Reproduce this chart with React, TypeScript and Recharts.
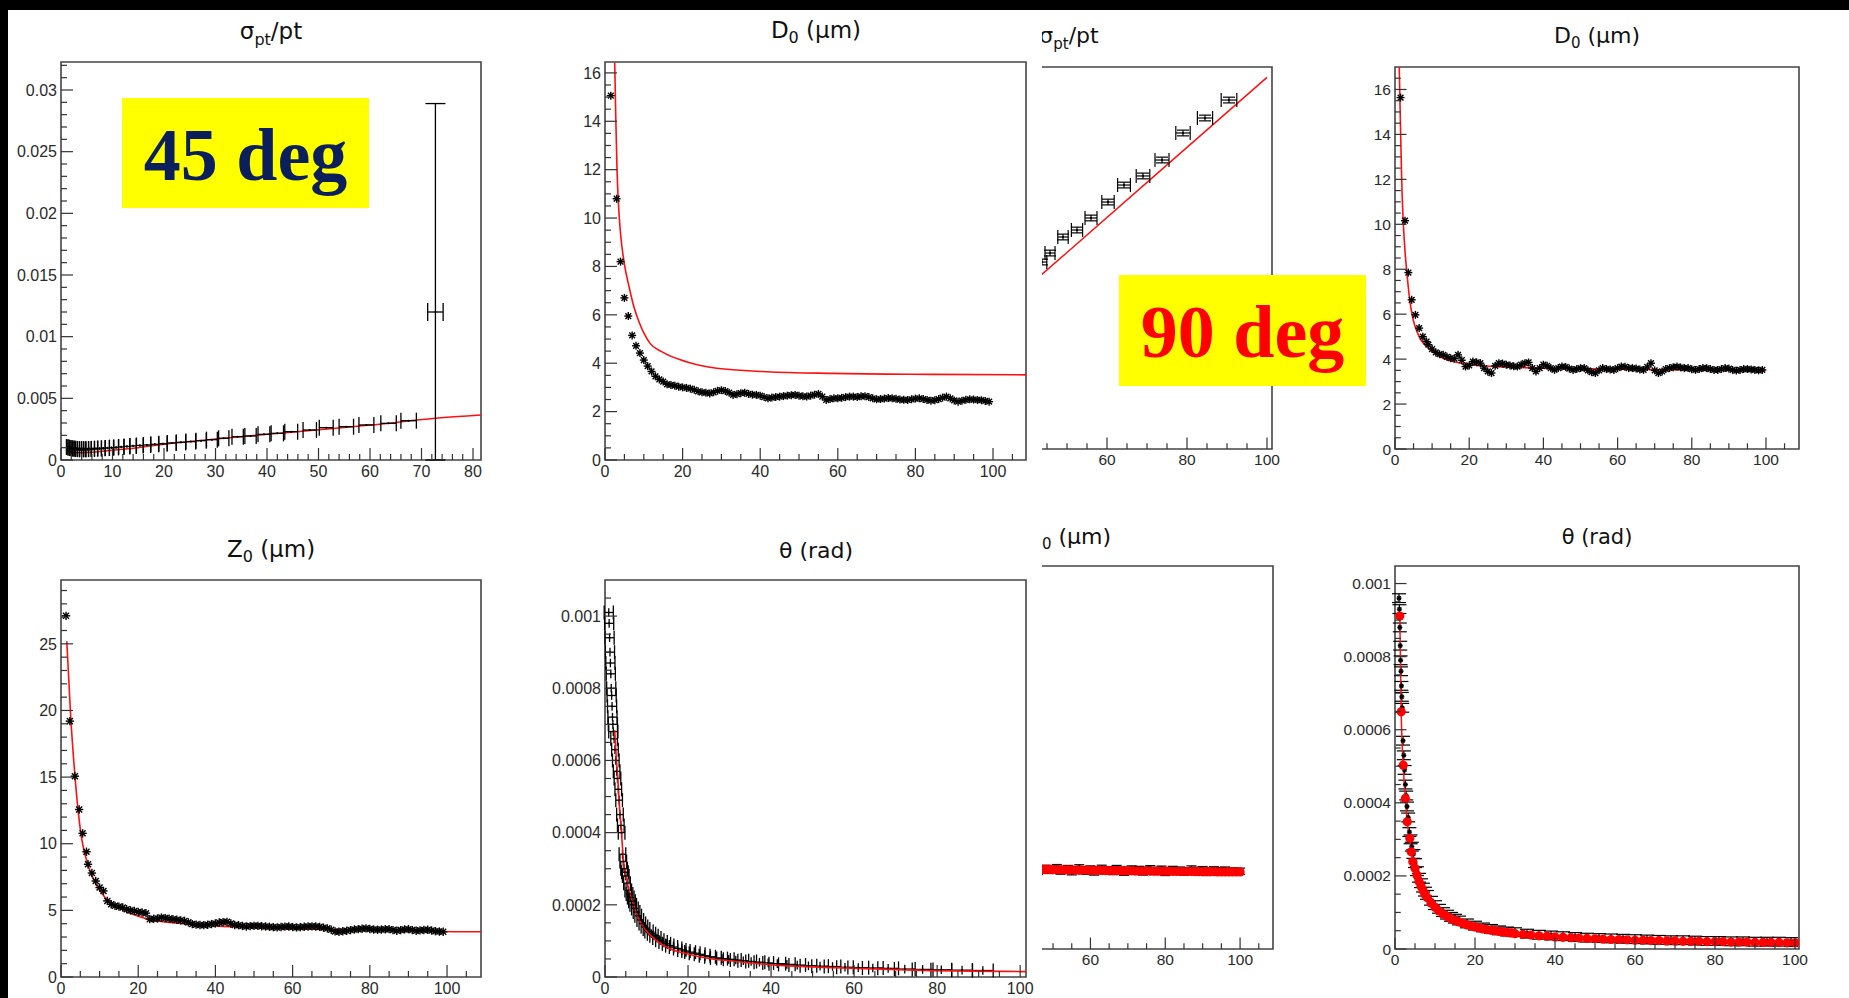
import React from 'react';
import { ComposedChart, XAxis, YAxis, Scatter, Line, ErrorBar, ReferenceArea } from 'recharts';

const FONT = '"DejaVu Sans", "Liberation Sans", Arial, sans-serif';
const TICKFONT = '"Liberation Sans", Arial, Helvetica, sans-serif';
const SERIF = '"Liberation Serif", "Times New Roman", serif';

// ---------- shared categories ----------
const PT_BINS = [3,4,5,6,7,8,9,10,11,12,13,14,15,16,17,18,19,20,21,22,23,24,25,26,27,28,29,30,31,32,33,34,35,36,37,38,39,40,41,42,43,44,45,46,47,48,49,50,51,52,53,54,55,56,57,58,59,60,61,62,63,64,65,66,67,68,69,70,71,72,73,74,75,76,77,78,79,80,81,82,83,84,85,86,87,88,89,90,91,92,93,94,95,96,97,98,99];

// ---------- tick labels ----------
const X_MAJOR_100 = [0, 20, 40, 60, 80, 100];
const X_LABELS_100 = ['0', '20', '40', '60', '80', '100'];
// the cut 90-deg panels only show the labels to the right of the overlap
const X_LABELS_100_CUT = ['', '', '', '60', '80', '100'];
const X_MAJOR_80 = [0, 10, 20, 30, 40, 50, 60, 70, 80];
const X_LABELS_80 = ['0', '10', '20', '30', '40', '50', '60', '70', '80'];
const Y_MAJOR_SIG = [0, 0.005, 0.01, 0.015, 0.02, 0.025, 0.03];
const Y_LABELS_SIG = ['0', '0.005', '0.01', '0.015', '0.02', '0.025', '0.03'];
const Y_MAJOR_D0 = [0, 2, 4, 6, 8, 10, 12, 14, 16];
const Y_LABELS_D0 = ['0', '2', '4', '6', '8', '10', '12', '14', '16'];
const Y_MAJOR_Z0 = [0, 5, 10, 15, 20, 25];
const Y_LABELS_Z0 = ['0', '5', '10', '15', '20', '25'];
const Y_MAJOR_TH = [0, 0.0002, 0.0004, 0.0006, 0.0008, 0.001];
const Y_LABELS_TH = ['0', '0.0002', '0.0004', '0.0006', '0.0008', '0.001'];

// ---------- 45 deg : sigma_pt / pt ----------
const SIG45_X = [1.2,1.5,1.8,2.1,2.4,2.7,3.0,3.4,3.8,4.2,4.6,5.1,5.6,6.2,6.8,7.5,8.2,9.0,9.8,10.7,11.7,12.8,14.0,15.3,16.7,18.2,19.8,21.5,23.3,25.2,27.2,29.3,31.6,34.3,36.8,39.4,42.0,44.7,48.3,51.5,55.4,59.3,63.6,67.5];
const SIG45_Y = [0.00105,0.001,0.00098,0.00095,0.00093,0.00092,0.0009,0.00088,0.00087,0.00088,0.00087,0.00088,0.00089,0.0009,0.00092,0.00093,0.00095,0.00097,0.001,0.00102,0.00106,0.0011,0.00114,0.00118,0.00122,0.00127,0.00132,0.00138,0.00143,0.00149,0.00157,0.00165,0.00176,0.00189,0.00195,0.00208,0.00216,0.0023,0.00243,0.00262,0.0027,0.00284,0.00297,0.00319];
const SIG45_XERR = [0.15,0.15,0.15,0.15,0.15,0.15,0.2,0.2,0.2,0.2,0.2,0.25,0.25,0.3,0.3,0.35,0.35,0.4,0.4,0.45,0.5,0.55,0.6,0.65,0.7,0.75,0.8,0.85,0.9,0.95,1.0,1.05,1.0,1.1,1.1,1.15,1.2,1.25,1.3,1.35,1.4,1.45,1.5,1.5];
const SIG45_YERR = [0.00016,0.00015,0.00015,0.00015,0.00014,0.00014,0.00014,0.00013,0.00013,0.00013,0.00013,0.00012,0.00012,0.00012,0.00011,0.00011,0.00011,0.0001,0.0001,0.0001,0.00009,0.00009,0.00009,0.00008,0.00008,0.00008,0.00007,0.00007,0.00007,0.00006,0.00006,0.00006,0.00005,0.00005,0.00005,0.00005,0.00005,0.00005,0.00005,0.00005,0.00005,0.00005,0.00005,0.00005];
const SIG45_OUT_X = [72.7];
const SIG45_OUT_Y = [0.012];
const SIG45_OUT_XERR = [1.5];
// [down, up]: the lower error is cut at the axis by the frame
const SIG45_OUT_YERR = [[0.012, 0.0169]];
const SIG45_FIT_X = [1.2,2,3,4,6,8,10,15,20,31.6,40,50,60,72.7,81.6];
const SIG45_FIT_Y = [0.00075,0.00062,0.00058,0.00058,0.00062,0.0007,0.00079,0.001,0.00128,0.00176,0.00208,0.00245,0.00283,0.00338,0.00365];

// ---------- 45 deg : D0 ----------
const D045_X = [1.5, ...PT_BINS];
const D045_Y = [15.06,10.8,8.2,6.7,5.95,5.15,4.72,4.42,4.13,3.88,3.66,3.46,3.33,3.24,3.13,3.1,3.07,3.03,3.0,2.98,2.95,2.9,2.84,2.8,2.78,2.75,2.8,2.86,2.89,2.85,2.78,2.69,2.72,2.76,2.78,2.73,2.7,2.69,2.66,2.6,2.55,2.58,2.6,2.62,2.64,2.66,2.68,2.69,2.66,2.63,2.62,2.66,2.7,2.73,2.62,2.48,2.52,2.55,2.55,2.57,2.6,2.62,2.62,2.6,2.63,2.64,2.6,2.55,2.51,2.52,2.54,2.56,2.55,2.53,2.5,2.49,2.48,2.51,2.54,2.55,2.52,2.48,2.45,2.47,2.52,2.58,2.62,2.55,2.46,2.41,2.45,2.49,2.51,2.5,2.48,2.47,2.44,2.41];
const D045_FIT_X = [2.5,2.8,3.1,3.5,4,5,6.2,7.5,8.9,10,11.6,14.6,21,28.8,41.7,58.8,84.6,108.5];
const D045_FIT_Y = [16.43,14,12,10.5,9.37,8.1,7.16,6.3,5.65,5.25,4.82,4.48,4.06,3.79,3.65,3.58,3.54,3.52];

// ---------- 45 deg : Z0 ----------
const Z045_X = [1.3, 2.3, 3.6, 4.7, 5.6, 6.6, ...PT_BINS.slice(4)];
const Z045_Y = [27.1,19.2,15.07,12.57,10.78,9.4,8.46,7.8,7.2,6.71,6.46,5.71,5.46,5.34,5.28,5.21,5.09,5.0,4.96,4.88,4.84,4.79,4.34,4.37,4.39,4.46,4.42,4.38,4.34,4.3,4.25,4.21,4.1,3.97,3.93,3.9,3.89,3.92,3.97,4.02,4.09,4.12,4.14,4.02,3.9,3.89,3.83,3.79,3.82,3.84,3.84,3.81,3.79,3.77,3.74,3.72,3.75,3.78,3.79,3.75,3.72,3.74,3.77,3.79,3.8,3.79,3.76,3.7,3.65,3.55,3.42,3.39,3.43,3.47,3.52,3.57,3.59,3.62,3.65,3.6,3.56,3.54,3.56,3.58,3.59,3.52,3.47,3.52,3.57,3.59,3.52,3.47,3.5,3.53,3.54,3.49,3.44,3.41,3.39];
const Z045_FIT_X = [1.5,2.5,3.5,4.5,5.4,7.1,8.8,11.4,15.7,22.6,33,50.3,76.2,102,108.8];
const Z045_FIT_Y = [25.2,19.6,15.5,12.3,10.3,8.3,7.1,5.97,5.09,4.34,3.97,3.72,3.54,3.4,3.39];

// ---------- 45 deg : theta ----------
const TH45_X = [0.9,1.0,1.1,1.2,1.3,1.4,1.5,1.6,1.7,1.8,1.9,2.0,2.2,2.4,2.6,2.8,3.0,3.2,3.4,3.6,3.8,4.0,4.2,4.4,4.6,4.8,5.0,5.3,5.6,5.9,6.2,6.5,6.8,7.2,7.6,8.0,8.5,9.0,9.5,10,10.6,11.2,11.8,12.5,13.2,14,14.8,15.6,16.5,17.5,18.5,19.5,20.5,21.6,22.8,24,25.3,26.7,28.2,29.8,31.5,33.3,35.2,37.2,39.3,41.5,43.8,46.3,49,51.8,54.8,57.8,61,64.5,68.2,72.2,76.5,81,86,91];
const TH45_Y = [0.00101,0.00098,0.00094,0.0009,0.00087,0.00084,0.0008,0.00078,0.00075,0.00072,0.0007,0.00068,0.00066,0.00063,0.0006,0.00057,0.00055,0.00052,0.00049,0.00045,0.00042,0.0004,0.00034,0.00032,0.0003,0.00029,0.00028,0.00026,0.00024,0.00023,0.00022,0.00021,0.0002,0.00019,0.00018,0.00017,0.000158,0.000148,0.00014,0.000133,0.000126,0.00012,0.000114,0.000108,0.000102,0.000097,0.000092,0.000087,0.000083,0.000079,0.000075,0.000072,0.000069,0.000066,0.000063,0.000059,0.000056,0.000053,0.000051,0.000049,0.000047,0.000045,0.000043,0.000041,0.000039,0.000037,0.000035,0.000033,0.000031,0.00003,0.000029,0.000027,0.000026,0.000025,0.000024,0.000022,0.000021,0.00002,0.000019,0.000018];
const TH45_XERR_BANDS = [[2.1, 1.1], [5.1, 0.8], [10.1, 0.8], [20.1, 1.0], [40, 1.3], [60, 2.0], [200, 2.5]];
const TH45_FIT_X = [2.34,2.7,3.16,3.5,3.98,4.4,5.2,6.5,8,9.8,12.5,16.4,20,24.7,30,41.3,55,74.5,101.4];
const TH45_FIT_Y = [0.000684,0.00061,0.000537,0.00047,0.000398,0.000329,0.00027,0.000213,0.000165,0.00013,0.0001,0.000075,0.000064,0.000052,0.000045,0.000033,0.000026,0.000019,0.000015];

// ---------- 90 deg : sigma_pt / pt (cut) ----------
const SIG90_X = [36.5,38.9,41.3,43.75,45.75,49,52.5,56,60.25,64.25,69,73.75,79,84.5,90.5];
const SIG90_Y = [0.00168,0.00177,0.00186,0.001958,0.002052,0.00222,0.002293,0.002419,0.002586,0.002764,0.002859,0.003026,0.003309,0.003466,0.003654];
const SIG90_XERR = [1.1,1.15,1.2,1.2,1.25,1.3,1.4,1.5,1.55,1.6,1.7,1.75,1.8,1.9,1.95];
const SIG90_FIT_X = [0, 50, 100];
const SIG90_FIT_Y = [0.000224, 0.002058, 0.003892];

// ---------- 90 deg : D0 ----------
const D090_X = [1.5, 2.7, 3.6, 4.5, 5.5, 6.5, 7.5, 8.5, ...PT_BINS.slice(6)];
const D090_Y = [15.64,10.16,7.85,6.64,5.97,5.38,5.0,4.78,4.64,4.45,4.3,4.22,4.19,4.1,4.04,4.02,4.19,3.95,3.67,3.72,3.89,3.86,3.82,3.6,3.45,3.38,3.7,3.82,3.8,3.75,3.72,3.68,3.67,3.75,3.82,3.85,3.6,3.45,3.6,3.75,3.7,3.6,3.52,3.6,3.67,3.65,3.58,3.52,3.56,3.6,3.6,3.5,3.42,3.38,3.5,3.6,3.56,3.54,3.52,3.6,3.67,3.66,3.6,3.6,3.58,3.54,3.52,3.65,3.82,3.5,3.38,3.45,3.56,3.6,3.64,3.67,3.63,3.6,3.6,3.55,3.52,3.56,3.6,3.6,3.56,3.52,3.52,3.56,3.6,3.58,3.52,3.49,3.52,3.56,3.56,3.54,3.52,3.5,3.52];
const D090_FIT_X = [1.14,1.5,1.8,2.2,2.7,3.3,4,4.9,6,7,8.5,10,13,16,20.2,30,40,60,80,99.9];
const D090_FIT_Y = [17,14.2,12,10.19,8.8,7.67,6.6,5.75,5.2,4.85,4.56,4.35,4.04,3.88,3.75,3.65,3.6,3.55,3.52,3.49];

// ---------- 90 deg : Z0 (cut) ----------
const Z090_X = [40,41,42,43,44,45,46,47,48,49,50,51,52,53,54,55,56,57,58,59,60,61,62,63,64,65,66,67,68,69,70,71,72,73,74,75,76,77,78,79,80,81,82,83,84,85,86,87,88,89,90,91,92,93,94,95,96,97,98,99,100];
const Z090_RED = [3.56,3.56,3.55,3.55,3.55,3.54,3.54,3.53,3.53,3.53,3.52,3.52,3.52,3.51,3.51,3.51,3.5,3.5,3.5,3.5,3.49,3.49,3.49,3.49,3.48,3.48,3.48,3.48,3.47,3.47,3.47,3.47,3.46,3.46,3.46,3.46,3.46,3.45,3.45,3.45,3.45,3.45,3.44,3.44,3.44,3.44,3.44,3.44,3.43,3.43,3.43,3.43,3.43,3.43,3.42,3.42,3.42,3.42,3.42,3.42,3.42];
const Z090_BLACK = [3.58,3.5,3.62,3.47,3.55,3.6,3.44,3.52,3.58,3.49,3.54,3.61,3.46,3.5,3.57,3.43,3.52,3.6,3.48,3.45,3.55,3.42,3.5,3.58,3.46,3.52,3.44,3.57,3.5,3.41,3.49,3.55,3.47,3.53,3.42,3.5,3.56,3.44,3.49,3.54,3.4,3.48,3.53,3.45,3.5,3.41,3.47,3.55,3.44,3.49,3.52,3.4,3.46,3.51,3.43,3.48,3.5,3.41,3.46,3.44,3.45];

// ---------- 90 deg : theta ----------
const TH90_BX = [1.0,1.1,1.2,1.3,1.4,1.5,1.6,1.7,1.8,2.0,2.2,2.4,2.6,2.8,3.0,3.3,3.6,3.9,4.2,4.6,5,5.5,6,6.5,7,7.5,8,9,10,11,12,13,14,15,16,18,20,22,24,26,28,30,33,36,39,42,45,48,51,54,57,60,63,66,69,72,75,78,81,84,87,90,93,96,99];
const TH90_BY = [0.00096,0.00093,0.00088,0.00083,0.00079,0.00076,0.00072,0.00069,0.00066,0.00057,0.00053,0.00049,0.00045,0.00042,0.00039,0.00036,0.00032,0.0003,0.00028,0.00026,0.000235,0.000213,0.000195,0.00018,0.000168,0.000157,0.000148,0.000132,0.00012,0.00011,0.000101,0.000094,0.000088,0.000083,0.000078,0.00007,0.000064,0.000059,0.000055,0.000051,0.000048,0.000046,0.000042,0.000039,0.000037,0.000035,0.000033,0.000031,0.00003,0.000029,0.000028,0.000027,0.000026,0.000025,0.000024,0.000024,0.000023,0.000022,0.000022,0.000021,0.000021,0.00002,0.00002,0.00002,0.000019];
const TH90_RX = [1.2,1.55,2.05,2.6,3.05,3.7,4.05,4.45,5,5.5,6,6.5,7,7.5,8,9,10,11,12,13,14,15,16,17,18,19,20,21,22,23,24,25,26,27,28,29,30,32,34,36,38,40,42,44,46,48,50,52,54,56,58,60,62,64,66,68,70,72,74,76,78,80,82,84,86,88,90,92,94,96,98,100];
const TH90_RY = [0.000911,0.000649,0.000503,0.000412,0.000348,0.000303,0.000266,0.000239,0.000221,0.000202,0.000185,0.000172,0.00016,0.00015,0.000141,0.000126,0.000114,0.000104,0.000096,0.000089,0.000083,0.000078,0.000074,0.00007,0.000066,0.000063,0.00006,0.000058,0.000055,0.000053,0.000051,0.00005,0.000048,0.000046,0.000045,0.000044,0.000042,0.00004,0.000038,0.000036,0.000035,0.000033,0.000032,0.000031,0.00003,0.000029,0.000028,0.000027,0.000026,0.000026,0.000025,0.000024,0.000024,0.000023,0.000023,0.000022,0.000022,0.000021,0.000021,0.000021,0.00002,0.00002,0.00002,0.000019,0.000019,0.000019,0.000018,0.000018,0.000018,0.000018,0.000017,0.000017];

// ---------- helpers ----------
function rows(xs: number[], ys: number[], ex?: any, ey?: any) {
  const n = Math.min(xs.length, ys.length);
  const out: any[] = [];
  for (let i = 0; i < n; i++) {
    out.push({
      x: xs[i],
      y: ys[i],
      ex: Array.isArray(ex) ? (ex[i] ?? 0) : (ex ?? 0),
      ey: Array.isArray(ey) ? (ey[i] ?? 0) : (ey ?? 0),
    });
  }
  return out;
}
function bandLookup(xs: number[], bands: number[][]) {
  return xs.map((x) => {
    for (const [lim, v] of bands) if (x < lim) return v;
    return bands[bands.length - 1][1];
  });
}
function minorTicks(a: number, b: number, step: number) {
  const out: number[] = [];
  if (!(step > 0)) return out;
  const k0 = Math.ceil(a / step - 1e-9);
  const k1 = Math.floor(b / step + 1e-9);
  for (let k = k0; k <= k1; k++) {
    const v = +(k * step).toPrecision(12);
    if (Math.abs(v - b) < step * 0.05) continue;
    out.push(v);
  }
  return out;
}

function makeXTick(major: number[], labels: string[], step: number, fs: number, gap: number, tl: number) {
  return (p: any) => {
    const v = p.payload ? p.payload.value : 0;
    const i = major.findIndex((m) => Math.abs(m - v) < step * 0.01);
    const len = i >= 0 ? tl : tl / 2;
    const lab = i >= 0 ? labels[i] : '';
    return (
      <g>
        <line x1={p.x} x2={p.x} y1={p.y} y2={p.y - len} stroke="#333" strokeWidth={1.2} />
        {lab ? (
          <text x={p.x} y={p.y + gap} textAnchor="middle" fontFamily={TICKFONT} fontSize={fs} fill="#2a2a2a">
            {lab}
          </text>
        ) : null}
      </g>
    );
  };
}
function makeYTick(major: number[], labels: string[], step: number, fs: number, tl: number) {
  return (p: any) => {
    const v = p.payload ? p.payload.value : 0;
    const i = major.findIndex((m) => Math.abs(m - v) < step * 0.01);
    const len = i >= 0 ? tl : tl / 2;
    const lab = i >= 0 ? labels[i] : '';
    return (
      <g>
        <line x1={p.x} x2={p.x + len} y1={p.y} y2={p.y} stroke="#333" strokeWidth={1.2} />
        {lab ? (
          <text x={p.x - 4} y={p.y} dy="0.36em" textAnchor="end" fontFamily={TICKFONT} fontSize={fs} fill="#2a2a2a">
            {lab}
          </text>
        ) : null}
      </g>
    );
  };
}

const asterisk = (s: number) => (p: any) => {
  const { cx, cy } = p;
  if (cx == null || cy == null) return <g />;
  const d = s * 0.72;
  return (
    <g stroke="#000" strokeWidth={1.4}>
      <line x1={cx - s} x2={cx + s} y1={cy} y2={cy} />
      <line x1={cx} x2={cx} y1={cy - s} y2={cy + s} />
      <line x1={cx - d} x2={cx + d} y1={cy - d} y2={cy + d} />
      <line x1={cx - d} x2={cx + d} y1={cy + d} y2={cy - d} />
    </g>
  );
};
const dot = (p: any) => {
  const { cx, cy } = p;
  if (cx == null || cy == null) return <g />;
  return <circle cx={cx} cy={cy} r={1} fill="#000" />;
};
const redDot = (p: any) => {
  const { cx, cy } = p;
  if (cx == null || cy == null) return <g />;
  return <circle cx={cx} cy={cy} r={4.6} fill="#ff0000" />;
};

function fitLine(xs: number[], ys: number[], w = 1.6) {
  return (
    <Line
      data={rows(xs, ys)}
      dataKey="y"
      type="monotone"
      stroke="#ff1010"
      strokeWidth={w}
      dot={false}
      activeDot={false}
      isAnimationActive={false}
    />
  );
}

function Panel(props: any) {
  const { f, xd, yd, xMajor, xLabels, xStep, yMajor, yLabels, yStep, fs, tl, gap, ox = 0, children } = props;
  const YW = 90, XH = 32, M = 4, MR = 26;
  const w = f.r - f.l + YW + MR;
  const h = f.b - f.t + M + XH;
  const xTicks = minorTicks(xd[0], xd[1], xStep);
  const yTicks = minorTicks(yd[0], yd[1], yStep);
  return (
    <div style={{ position: 'absolute', left: f.l - YW - ox, top: f.t - M, width: w, height: h }}>
      <ComposedChart width={w} height={h} margin={{ top: M, right: MR, bottom: 0, left: 0 }}>
        <XAxis
          type="number"
          dataKey="x"
          domain={xd}
          allowDataOverflow
          ticks={xTicks}
          interval={0}
          height={XH}
          tickSize={0}
          tickMargin={0}
          tickLine={false}
          axisLine={false}
          tick={makeXTick(xMajor, xLabels, xStep, fs, gap, tl)}
        />
        <YAxis
          type="number"
          domain={yd}
          allowDataOverflow
          ticks={yTicks.length ? yTicks : undefined}
          interval={0}
          width={YW}
          tickSize={0}
          tickMargin={0}
          tickLine={false}
          axisLine={false}
          tick={yTicks.length ? makeYTick(yMajor, yLabels, yStep, fs, tl) : false}
        />
        <ReferenceArea
          x1={xd[0]}
          x2={xd[1]}
          y1={yd[0]}
          y2={yd[1]}
          fill="none"
          fillOpacity={0}
          stroke="#444"
          strokeWidth={1.6}
          ifOverflow="visible"
        />
        {children}
      </ComposedChart>
    </div>
  );
}

export default function App() {
  const sig45 = rows(SIG45_X, SIG45_Y, SIG45_XERR, SIG45_YERR);
  const sig45out = rows(SIG45_OUT_X, SIG45_OUT_Y, SIG45_OUT_XERR, SIG45_OUT_YERR);
  const d045 = rows(D045_X, D045_Y, 0.5, 0.08);
  const z045 = rows(Z045_X, Z045_Y, 0.5, 0.15);
  const th45 = rows(TH45_X, TH45_Y, bandLookup(TH45_X, TH45_XERR_BANDS), 0.000012);
  const sig90 = rows(SIG90_X, SIG90_Y, SIG90_XERR, 0.00003);
  const d090 = rows(D090_X, D090_Y, 0.5, 0.1);
  const z090b = rows(Z090_X, Z090_BLACK, 0.5, 0.14);
  const z090r = rows(Z090_X, Z090_RED);
  const th90b = rows(TH90_BX, TH90_BY, 0.35, 0.000012);
  const th90r = rows(TH90_RX, TH90_RY);

  const L = { fs: 16, tl: 12, gap: 17 };
  const R = { fs: 15.5, tl: 11.5, gap: 16 };

  return (
    <div style={{ position: 'absolute', left: 0, top: 0, width: 1849, height: 998, background: '#fff', overflow: 'hidden' }}>
      {/* 45 deg: sigma_pt/pt */}
      <Panel f={{ l: 61, t: 62, r: 481, b: 460 }} xd={[0, 81.55]} yd={[0, 0.03227]}
        xMajor={X_MAJOR_80} xLabels={X_LABELS_80} xStep={2}
        yMajor={Y_MAJOR_SIG} yLabels={Y_LABELS_SIG} yStep={0.001} {...L}>
        {fitLine(SIG45_FIT_X, SIG45_FIT_Y, 1.5)}
        <Scatter data={sig45} dataKey="y" shape={dot} isAnimationActive={false}>
          <ErrorBar dataKey="ex" direction="x" width={8} stroke="#000" strokeWidth={1.3} />
          <ErrorBar dataKey="ey" direction="y" width={0} stroke="#000" strokeWidth={1.3} />
        </Scatter>
        <Scatter data={sig45out} dataKey="y" shape={dot} isAnimationActive={false}>
          <ErrorBar dataKey="ex" direction="x" width={9} stroke="#000" strokeWidth={1.3} />
          <ErrorBar dataKey="ey" direction="y" width={10} stroke="#000" strokeWidth={1.3} />
        </Scatter>
      </Panel>

      {/* 45 deg: D0 */}
      <Panel f={{ l: 605, t: 62, r: 1026, b: 460 }} xd={[0, 108.5]} yd={[0, 16.45]}
        xMajor={X_MAJOR_100} xLabels={X_LABELS_100} xStep={5}
        yMajor={Y_MAJOR_D0} yLabels={Y_LABELS_D0} yStep={0.5} {...L}>
        {fitLine(D045_FIT_X, D045_FIT_Y, 1.6)}
        <Scatter data={d045} dataKey="y" shape={asterisk(4)} isAnimationActive={false}>
          <ErrorBar dataKey="ex" direction="x" width={0} stroke="#000" strokeWidth={1.2} />
          <ErrorBar dataKey="ey" direction="y" width={0} stroke="#000" strokeWidth={1.2} />
        </Scatter>
      </Panel>

      {/* 45 deg: Z0 */}
      <Panel f={{ l: 61, t: 580, r: 481, b: 977 }} xd={[0, 108.8]} yd={[0, 29.79]}
        xMajor={X_MAJOR_100} xLabels={X_LABELS_100} xStep={5}
        yMajor={Y_MAJOR_Z0} yLabels={Y_LABELS_Z0} yStep={1} {...L}>
        <Scatter data={z045} dataKey="y" shape={asterisk(4.2)} isAnimationActive={false}>
          <ErrorBar dataKey="ex" direction="x" width={0} stroke="#000" strokeWidth={1.3} />
          <ErrorBar dataKey="ey" direction="y" width={0} stroke="#000" strokeWidth={1.3} />
        </Scatter>
        {fitLine(Z045_FIT_X, Z045_FIT_Y, 1.6)}
      </Panel>

      {/* 45 deg: theta */}
      <Panel f={{ l: 605, t: 580, r: 1026, b: 977 }} xd={[0, 101.4]} yd={[0, 0.0011]}
        xMajor={X_MAJOR_100} xLabels={X_LABELS_100} xStep={5}
        yMajor={Y_MAJOR_TH} yLabels={Y_LABELS_TH} yStep={0.00005} {...L}>
        <Scatter data={th45} dataKey="y" shape={dot} isAnimationActive={false}>
          <ErrorBar dataKey="ex" direction="x" width={7} stroke="#000" strokeWidth={1.3} />
          <ErrorBar dataKey="ey" direction="y" width={0} stroke="#000" strokeWidth={1.3} />
        </Scatter>
        {fitLine(TH45_FIT_X, TH45_FIT_Y, 1.6)}
      </Panel>

      {/* 90 deg: cut panels */}
      <div style={{ position: 'absolute', left: 1042, top: 0, width: 1849 - 1042, height: 998, overflow: 'hidden' }}>
        <Panel f={{ l: 867, t: 67, r: 1272, b: 449 }} ox={1042} xd={[0, 101.25]} yd={[0, 0.004]}
          xMajor={X_MAJOR_100} xLabels={X_LABELS_100_CUT} xStep={5}
          yMajor={[]} yLabels={[]} yStep={0} {...R}>
          {fitLine(SIG90_FIT_X, SIG90_FIT_Y, 1.5)}
          <Scatter data={sig90} dataKey="y" shape={dot} isAnimationActive={false}>
            <ErrorBar dataKey="ex" direction="x" width={7} stroke="#000" strokeWidth={1.2} />
            <ErrorBar dataKey="ey" direction="y" width={6} stroke="#000" strokeWidth={1.2} />
          </Scatter>
        </Panel>
        <Panel f={{ l: 866, t: 566, r: 1273, b: 949 }} ox={1042} xd={[0, 108.8]} yd={[0, 17]}
          xMajor={X_MAJOR_100} xLabels={X_LABELS_100_CUT} xStep={5}
          yMajor={[]} yLabels={[]} yStep={0} {...R}>
          <Scatter data={z090b} dataKey="y" shape={asterisk(3)} isAnimationActive={false}>
            <ErrorBar dataKey="ex" direction="x" width={0} stroke="#000" strokeWidth={1.2} />
            <ErrorBar dataKey="ey" direction="y" width={5} stroke="#000" strokeWidth={1.2} />
          </Scatter>
          <Scatter data={z090r} dataKey="y" shape={redDot} isAnimationActive={false} />
        </Panel>
      </div>

      {/* 90 deg: D0 */}
      <Panel f={{ l: 1395, t: 67, r: 1799, b: 449 }} xd={[0, 108.9]} yd={[0, 17]}
        xMajor={X_MAJOR_100} xLabels={X_LABELS_100} xStep={5}
        yMajor={Y_MAJOR_D0} yLabels={Y_LABELS_D0} yStep={0.5} {...R}>
        <Scatter data={d090} dataKey="y" shape={asterisk(4)} isAnimationActive={false}>
          <ErrorBar dataKey="ex" direction="x" width={0} stroke="#000" strokeWidth={1.2} />
          <ErrorBar dataKey="ey" direction="y" width={0} stroke="#000" strokeWidth={1.2} />
        </Scatter>
        {fitLine(D090_FIT_X, D090_FIT_Y, 1.6)}
      </Panel>

      {/* 90 deg: theta */}
      <Panel f={{ l: 1395, t: 566, r: 1799, b: 949 }} xd={[0, 101]} yd={[0, 0.001048]}
        xMajor={X_MAJOR_100} xLabels={X_LABELS_100} xStep={5}
        yMajor={Y_MAJOR_TH} yLabels={Y_LABELS_TH} yStep={0.00005} {...R}>
        <Scatter data={th90b} dataKey="y" shape={asterisk(2.5)} isAnimationActive={false}>
          <ErrorBar dataKey="ex" direction="x" width={0} stroke="#000" strokeWidth={1.2} />
          <ErrorBar dataKey="ey" direction="y" width={7} stroke="#000" strokeWidth={1.2} />
        </Scatter>
        {fitLine(TH90_RX, TH90_RY, 1.5)}
        <Scatter data={th90r} dataKey="y" shape={redDot} isAnimationActive={false} />
      </Panel>

      {/* overlay: titles, labels, frame bands */}
      <svg width={1849} height={998} style={{ position: 'absolute', left: 0, top: 0, pointerEvents: 'none' }}>
        <defs>
          <clipPath id="rightCut">
            <rect x={1042} y={0} width={807} height={998} />
          </clipPath>
        </defs>
        <g fontFamily={FONT} fill="#111">
          <text x={271} y={39} textAnchor="middle" fontSize={23}>
            σ<tspan fontSize={16} dy={6}>pt</tspan><tspan dy={-6}>/pt</tspan>
          </text>
          <text x={816} y={38} textAnchor="middle" fontSize={23}>
            D<tspan fontSize={16} dy={5}>0</tspan><tspan dy={-5}> (μm)</tspan>
          </text>
          <text x={271} y={557} textAnchor="middle" fontSize={23}>
            Z<tspan fontSize={16} dy={5}>0</tspan><tspan dy={-5}> (μm)</tspan>
          </text>
          <text x={816} y={558} textAnchor="middle" fontSize={22}>
            θ (rad)
          </text>
          <g clipPath="url(#rightCut)">
            <text x={1069} y={43} textAnchor="middle" fontSize={22}>
              σ<tspan fontSize={15} dy={6}>pt</tspan><tspan dy={-6}>/pt</tspan>
            </text>
            <text x={1069} y={544} textAnchor="middle" fontSize={22}>
              Z<tspan fontSize={15} dy={5}>0</tspan><tspan dy={-5}> (μm)</tspan>
            </text>
          </g>
          <text x={1597} y={43} textAnchor="middle" fontSize={22}>
            D<tspan fontSize={15} dy={5}>0</tspan><tspan dy={-5}> (μm)</tspan>
          </text>
          <text x={1597} y={544} textAnchor="middle" fontSize={21}>
            θ (rad)
          </text>
        </g>

        <rect x={122} y={98} width={247} height={110} fill="#ffff00" />
        <text x={245.5} y={180} textAnchor="middle" fontFamily={SERIF} fontWeight="bold" fontSize={74} fill="#0b1f5c">
          45 deg
        </text>
        <rect x={1119} y={275} width={247} height={111} fill="#ffff00" />
        <text x={1242.5} y={357} textAnchor="middle" fontFamily={SERIF} fontWeight="bold" fontSize={74} fill="#ff0000">
          90 deg
        </text>

        <rect x={0} y={0} width={1849} height={10} fill="#000" />
        <rect x={0} y={0} width={8} height={998} fill="#000" />
      </svg>
    </div>
  );
}
